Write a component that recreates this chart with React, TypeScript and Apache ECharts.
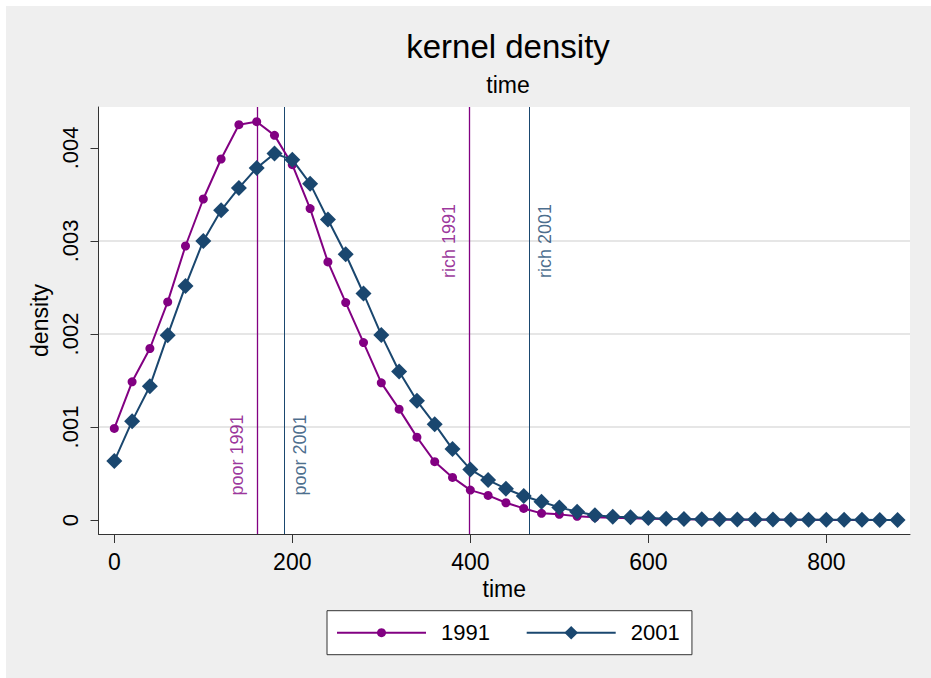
import React, { useEffect, useRef } from "react";
import * as echarts from "echarts";

const FONT = "'Liberation Sans', Arial, 'DejaVu Sans', sans-serif";
const PURPLE = "#820082";
const NAVY = "#1a476f";

const times = [
  0, 20, 40, 60, 80, 100, 120, 140, 160, 180, 200, 220, 240, 260, 280, 300,
  320, 340, 360, 380, 400, 420, 440, 460, 480, 500, 520, 540, 560, 580, 600,
  620, 640, 660, 680, 700, 720, 740, 760, 780, 800, 820, 840, 860, 880,
];

const density1991 = [
  0.000985, 0.001486, 0.001844, 0.002345, 0.002946, 0.003451, 0.003881,
  0.00425, 0.004282, 0.004135, 0.00382, 0.003348, 0.002775, 0.002338,
  0.001908, 0.001475, 0.001192, 0.000891, 0.000627, 0.000458, 0.000322,
  0.000265, 0.000186, 0.000125, 0.000072, 0.000061, 0.00004, 0.00003,
  0.000025, 0.00002, 0.000015, 0.00001, 0.000008, 0.000006, 0.000005,
  0.000004, 0.000003, 0.000003, 0.000002, 0.000002, 0.000001, 0.000001,
  0.000001, 0.000001, 0.000001,
];

const density2001 = [
  0.000634, 0.001063, 0.001439, 0.001987, 0.002517, 0.003, 0.00333, 0.00357,
  0.003785, 0.003939, 0.003874, 0.003616, 0.00323, 0.002857, 0.002435,
  0.00199, 0.001597, 0.001282, 0.001031, 0.000763, 0.000544, 0.00043,
  0.000337, 0.000258, 0.000197, 0.000136, 0.000089, 0.000052, 0.000036,
  0.000029, 0.000022, 0.000014, 0.000011, 0.000009, 0.000008, 0.000007,
  0.000006, 0.000005, 0.000004, 0.000003, 0.000003, 0.000002, 0.000002,
  0.000001, 0.000001,
];

const xTicks = [0, 200, 400, 600, 800];
const yTicks = [0, 0.001, 0.002, 0.003, 0.004];
const yTickLabels = ["0", ".001", ".002", ".003", ".004"];

// reference lines (x positions): [poor, rich]
const refLines1991 = [160.7, 398.5];
const refLines2001 = [190.7, 466];
const refLabelNames1991 = ["poor 1991", "rich 1991"];
const refLabelNames2001 = ["poor 2001", "rich 2001"];
const refLabelY = [0.0007, 0.003];

export default function App() {
  const ref = useRef<HTMLDivElement>(null);

  useEffect(() => {
    if (!ref.current) return;
    const chart = echarts.init(ref.current, null, { renderer: "svg" });

    const labelData: any[] = [];
    refLines1991.forEach((x, i) => {
      labelData.push({
        value: [x, refLabelY[i]],
        label: {
          formatter: refLabelNames1991[i],
          color: PURPLE,
          verticalAlign: "bottom",
          offset: [0, -11],
        },
      });
    });
    refLines2001.forEach((x, i) => {
      labelData.push({
        value: [x, refLabelY[i]],
        label: {
          formatter: refLabelNames2001[i],
          color: NAVY,
          verticalAlign: "top",
          offset: [0, 7],
        },
      });
    });

    const legendText = { fontSize: 22, color: "#000", fontFamily: FONT, padding: [0, 0, 0, 10] };

    const option: any = {
      animation: false,
      backgroundColor: "#efefef",
      textStyle: { fontFamily: FONT },
      title: {
        text: "kernel density",
        subtext: "time",
        left: 502,
        top: 24,
        padding: 0,
        textAlign: "center",
        itemGap: 10,
        textStyle: { fontSize: 33, fontWeight: "normal", color: "#000", fontFamily: FONT },
        subtextStyle: { fontSize: 23, color: "#000", fontFamily: FONT },
      },
      legend: [
        {
          data: ["1991"],
          left: 321,
          top: 604.7,
          orient: "horizontal",
          itemWidth: 89,
          itemHeight: 11.25,
          padding: [11, 202, 11, 9],
          backgroundColor: "#fff",
          borderColor: "#333",
          borderWidth: 1,
          borderRadius: 0,
          z: 4,
          textStyle: legendText,
        },
        {
          data: ["2001"],
          left: 519.7,
          top: 615.7,
          orient: "horizontal",
          itemWidth: 89,
          itemHeight: 17,
          padding: 0,
          z: 6,
          textStyle: legendText,
        },
      ],
      grid: {
        left: 92.5,
        top: 101,
        right: 21,
        bottom: 144,
        show: true,
        backgroundColor: "#fff",
        borderWidth: 0,
        containLabel: false,
      },
      xAxis: {
        type: "value",
        min: -17.75,
        max: 894,
        name: "time",
        nameLocation: "middle",
        nameGap: 37,
        nameTextStyle: { fontSize: 23, color: "#000", fontFamily: FONT },
        axisLine: { show: true, onZero: false, lineStyle: { color: "#333", width: 1 } },
        axisTick: { show: true, length: 9, lineStyle: { color: "#333" }, customValues: xTicks },
        axisLabel: { fontSize: 23, color: "#000", margin: 16, customValues: xTicks, fontFamily: FONT },
        splitLine: { show: false },
      },
      yAxis: {
        type: "value",
        min: -0.00015,
        max: 0.00444,
        name: "density",
        nameLocation: "middle",
        nameGap: 44,
        nameTextStyle: { fontSize: 23, color: "#000", fontFamily: FONT },
        axisLine: { show: true, onZero: false, lineStyle: { color: "#333", width: 1 } },
        axisTick: { show: true, length: 8, lineStyle: { color: "#333" }, customValues: yTicks },
        axisLabel: {
          rotate: 90,
          fontSize: 22,
          color: "#000",
          margin: 17,
          fontFamily: FONT,
          customValues: yTicks,
          formatter: (v: number) => {
            const i = yTicks.findIndex((t) => Math.abs(t - v) < 1e-9);
            return i >= 0 ? yTickLabels[i] : "";
          },
        },
        splitLine: { show: true, showMinLine: false, showMaxLine: false, lineStyle: { color: "#e6e6e6", width: 2 } },
      },
      series: [
        {
          name: "1991",
          type: "line",
          data: times.map((t, i) => [t, density1991[i]]),
          symbol: "circle",
          symbolSize: 9,
          showAllSymbol: true,
          itemStyle: { color: PURPLE },
          lineStyle: { color: PURPLE, width: 2 },
          z: 3,
          markLine: {
            silent: true,
            z: 1,
            symbol: ["none", "none"],
            label: { show: false },
            lineStyle: { color: PURPLE, width: 1.3, type: "solid" },
            emphasis: { disabled: true },
            data: refLines1991.map((x) => ({ xAxis: x })),
          },
        },
        {
          name: "2001",
          type: "line",
          data: times.map((t, i) => [t, density2001[i]]),
          symbol: "diamond",
          symbolSize: 16,
          showAllSymbol: true,
          itemStyle: { color: NAVY },
          lineStyle: { color: NAVY, width: 2 },
          z: 4,
          markLine: {
            silent: true,
            z: 1,
            symbol: ["none", "none"],
            label: { show: false },
            lineStyle: { color: NAVY, width: 1, type: "solid" },
            emphasis: { disabled: true },
            data: refLines2001.map((x) => ({ xAxis: x })),
          },
        },
        {
          name: "labels",
          type: "scatter",
          silent: true,
          symbol: "circle",
          symbolSize: 1,
          itemStyle: { color: "rgba(0,0,0,0)" },
          z: 5,
          label: {
            show: true,
            position: "inside",
            rotate: 90,
            align: "center",
            fontSize: 18,
            fontFamily: FONT,
          },
          data: labelData,
        },
      ],
    };

    chart.setOption(option);
    return () => chart.dispose();
  }, []);

  return (
    <div style={{ position: "absolute", left: 0, top: 0, width: 931, height: 678, background: "#fff" }}>
      <div ref={ref} style={{ position: "absolute", left: 6, top: 6, width: 925, height: 672 }} />
    </div>
  );
}
